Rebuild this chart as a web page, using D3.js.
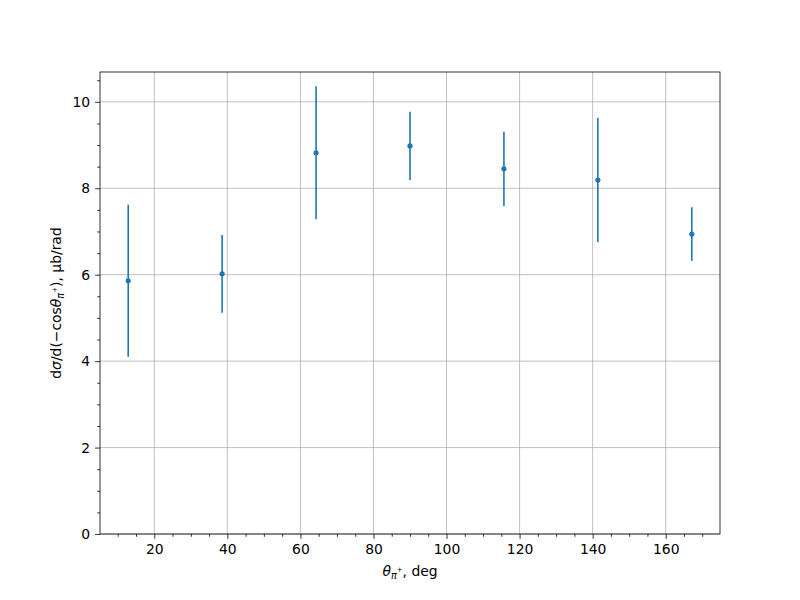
<!DOCTYPE html>
<html lang="en">
<head>
<meta charset="utf-8">
<title>Cross section vs angle</title>
<script src="https://d3js.org/d3.v7.min.js"></script>
<style>
  body { margin: 0; background: #fff; }
  svg text { font-family: "DejaVu Sans", sans-serif; }
</style>
</head>
<body>
<div id="chart"></div>
<script>
// data
var angles = [12.86, 38.57, 64.29, 90.0, 115.71, 141.43, 167.14];
var xsec = [5.86, 6.02, 8.82, 8.98, 8.45, 8.19, 6.94];
var xsecErr = [1.76, 0.90, 1.54, 0.79, 0.86, 1.44, 0.62];
var xTicks = [20, 40, 60, 80, 100, 120, 140, 160];
var yTicks = [0, 2, 4, 6, 8, 10];

var width = 800, height = 600;
var margin = { left: 100, right: 80, top: 72, bottom: 66 };
var color = "#1f77b4";

var svg = d3.select("#chart").append("svg")
  .attr("width", width)
  .attr("height", height);

var x = d3.scaleLinear().domain([5.14, 174.86]).range([margin.left, width - margin.right]);
var y = d3.scaleLinear().domain([0, 10.69]).range([height - margin.bottom, margin.top]);

// grid lines (major only)
var grid = svg.append("g").attr("stroke", "#b0b0b0").attr("stroke-width", 0.8);
grid.selectAll(".gx").data(xTicks).enter().append("line")
  .attr("x1", d => x(d)).attr("x2", d => x(d))
  .attr("y1", y.range()[0]).attr("y2", y.range()[1]);
grid.selectAll(".gy").data(yTicks).enter().append("line")
  .attr("y1", d => y(d)).attr("y2", d => y(d))
  .attr("x1", x.range()[0]).attr("x2", x.range()[1]);

// axes
var xAxis = d3.axisBottom(x).tickValues(xTicks).tickSize(4.9).tickPadding(4.9).tickFormat(d3.format("d"));
var yAxis = d3.axisLeft(y).tickValues(yTicks).tickSize(4.9).tickPadding(4.9).tickFormat(d3.format("d"));
var xMinor = d3.range(10, 175, 5).filter(d => d % 20 !== 0);
var yMinor = d3.range(0.5, 10.6, 0.5).filter(d => d % 2 !== 0);

svg.append("g").attr("transform", "translate(0," + y.range()[0] + ")").call(xAxis);
svg.append("g").attr("transform", "translate(0," + y.range()[0] + ")")
  .call(d3.axisBottom(x).tickValues(xMinor).tickSize(2.8).tickFormat(""));
svg.append("g").attr("transform", "translate(" + x.range()[0] + ",0)").call(yAxis);
svg.append("g").attr("transform", "translate(" + x.range()[0] + ",0)")
  .call(d3.axisLeft(y).tickValues(yMinor).tickSize(2.8).tickFormat(""));

svg.selectAll(".tick text").attr("font-size", "13.9px").attr("fill", "#000")
  .style("font-family", "DejaVu Sans");
svg.selectAll(".tick line").attr("stroke", "#000").attr("stroke-width", 0.8);
svg.selectAll(".domain").remove();

// frame
svg.append("rect")
  .attr("x", x.range()[0]).attr("y", y.range()[1])
  .attr("width", x.range()[1] - x.range()[0])
  .attr("height", y.range()[0] - y.range()[1])
  .attr("fill", "none").attr("stroke", "#000").attr("stroke-width", 0.8);

// error bars + points
var pts = angles.map((a, i) => ({ a: a, v: xsec[i], e: xsecErr[i] }));
svg.append("g").selectAll("line").data(pts).enter().append("line")
  .attr("x1", d => x(d.a)).attr("x2", d => x(d.a))
  .attr("y1", d => y(d.v - d.e)).attr("y2", d => y(d.v + d.e))
  .attr("stroke", color).attr("stroke-width", 1.6);
svg.append("g").selectAll("circle").data(pts).enter().append("circle")
  .attr("cx", d => x(d.a)).attr("cy", d => y(d.v))
  .attr("r", 2.6).attr("fill", color);

// axis labels
var xl = svg.append("text")
  .attr("x", (x.range()[0] + x.range()[1]) / 2).attr("y", 576)
  .attr("text-anchor", "middle").attr("font-size", "13.9px");
xl.append("tspan").attr("font-style", "italic").text("θ");
xl.append("tspan").attr("font-style", "italic").attr("font-size", "9.7px").attr("dy", 3).text("π");
xl.append("tspan").attr("font-size", "7px").attr("dy", -7).text("+");
xl.append("tspan").attr("dy", 4).text(", deg");

var yl = svg.append("text")
  .attr("transform", "translate(61," + ((y.range()[0] + y.range()[1]) / 2) + ") rotate(-90)")
  .attr("text-anchor", "middle").attr("font-size", "13.9px");
yl.append("tspan").text("d");
yl.append("tspan").attr("font-style", "italic").text("σ");
yl.append("tspan").text("/d(−cos");
yl.append("tspan").attr("font-style", "italic").text("θ");
yl.append("tspan").attr("font-style", "italic").attr("font-size", "9.7px").attr("dy", 3).text("π");
yl.append("tspan").attr("font-size", "7px").attr("dy", -7).text("+");
yl.append("tspan").attr("dy", 4).text("), μb/rad");
</script>
</body>
</html>
